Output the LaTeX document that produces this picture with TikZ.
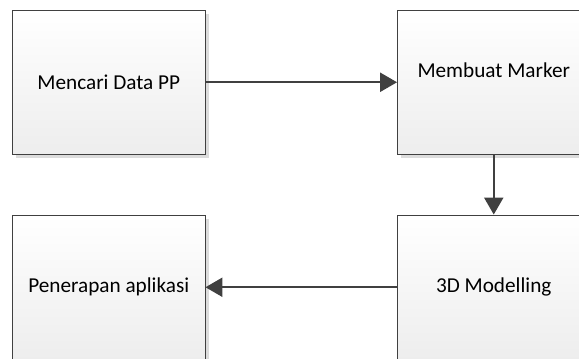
\documentclass[tikz,border=0pt]{standalone}
\usepackage{fontspec}
\setmainfont{Carlito}
\usetikzlibrary{arrows.meta,shadows}
\definecolor{edgec}{HTML}{404040}
\definecolor{shadc}{HTML}{DCDCDC}
\tikzset{
  procbox/.style={draw=edgec, line width=0.9bp, rectangle, inner sep=0pt,
    top color=white, bottom color=black!7,
    general shadow={fill=shadc, shadow xshift=3.5bp, shadow yshift=-3.5bp}},
  lbl/.style={font=\fontsize{21.3}{25}\selectfont, text=black, inner sep=0pt},
  flow/.style={draw=edgec, line width=2.3bp, -{Triangle[length=17bp,width=19bp]}}
}
\begin{document}
\begin{tikzpicture}[x=1bp,y=-1bp]
\useasboundingbox (0,0) rectangle (579,358);
\clip (0,0) rectangle (579,358);
\node[procbox, minimum width=192.5bp, minimum height=143.5bp] (A) at (108.75,82.25) {};
\node[lbl] (At) at (A.center) {Mencari Data PP};
\node[procbox, minimum width=192.5bp, minimum height=143.5bp] (B) at (493.75,82.25) {};
\node[lbl] (Bt) at (493.75,70) {Membuat Marker};
\node[procbox, minimum width=192.5bp, minimum height=144.5bp] (C) at (108.75,287.25) {};
\node[lbl] (Ct) at (C.center) {Penerapan aplikasi};
\node[procbox, minimum width=192.5bp, minimum height=144.5bp] (D) at (493.75,287.25) {};
\node[lbl] (Dt) at (D.center) {3D Modelling};
\draw[flow] (A.east) -- (B.west);
\draw[flow] (B.south) -- (D.north);
\draw[flow] (D.west) -- (C.east);
\end{tikzpicture}
\end{document}
